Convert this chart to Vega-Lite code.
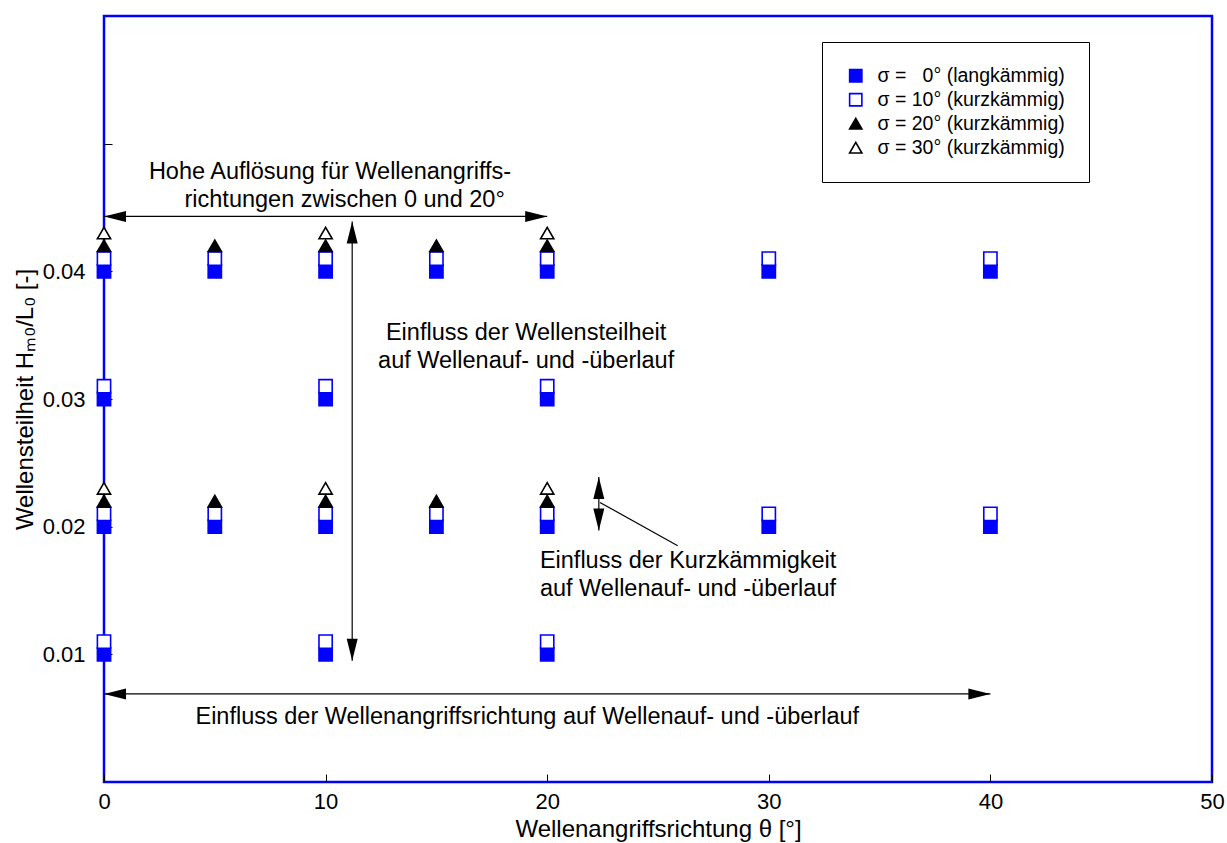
{
  "$schema": "https://vega.github.io/schema/vega-lite/v6.json",
  "width": 1108,
  "height": 766,
  "autosize": "none",
  "padding": {"left": 104, "top": 16, "right": 15, "bottom": 61},
  "background": "white",
  "config": {
    "font": "Liberation Sans",
    "view": {"stroke": "#0000ff", "strokeWidth": 2.5},
    "axis": {
      "domain": false,
      "grid": false,
      "labelFlush": false,
      "tickColor": "black",
      "tickWidth": 1,
      "labelColor": "black",
      "labelFont": "Liberation Sans",
      "labelFontSize": 22,
      "titleFont": "Liberation Sans",
      "titleFontSize": 24,
      "titleFontWeight": "normal",
      "titleColor": "black"
    }
  },
  "layer": [
    {
      "data": {
        "values": [
          {"theta": 0, "steil": 0.040, "serie": "σ = \u00a0\u00a00° (langkämmig)"},
          {"theta": 5, "steil": 0.040, "serie": "σ = \u00a0\u00a00° (langkämmig)"},
          {"theta": 10, "steil": 0.040, "serie": "σ = \u00a0\u00a00° (langkämmig)"},
          {"theta": 15, "steil": 0.040, "serie": "σ = \u00a0\u00a00° (langkämmig)"},
          {"theta": 20, "steil": 0.040, "serie": "σ = \u00a0\u00a00° (langkämmig)"},
          {"theta": 30, "steil": 0.040, "serie": "σ = \u00a0\u00a00° (langkämmig)"},
          {"theta": 40, "steil": 0.040, "serie": "σ = \u00a0\u00a00° (langkämmig)"},
          {"theta": 0, "steil": 0.030, "serie": "σ = \u00a0\u00a00° (langkämmig)"},
          {"theta": 10, "steil": 0.030, "serie": "σ = \u00a0\u00a00° (langkämmig)"},
          {"theta": 20, "steil": 0.030, "serie": "σ = \u00a0\u00a00° (langkämmig)"},
          {"theta": 0, "steil": 0.020, "serie": "σ = \u00a0\u00a00° (langkämmig)"},
          {"theta": 5, "steil": 0.020, "serie": "σ = \u00a0\u00a00° (langkämmig)"},
          {"theta": 10, "steil": 0.020, "serie": "σ = \u00a0\u00a00° (langkämmig)"},
          {"theta": 15, "steil": 0.020, "serie": "σ = \u00a0\u00a00° (langkämmig)"},
          {"theta": 20, "steil": 0.020, "serie": "σ = \u00a0\u00a00° (langkämmig)"},
          {"theta": 30, "steil": 0.020, "serie": "σ = \u00a0\u00a00° (langkämmig)"},
          {"theta": 40, "steil": 0.020, "serie": "σ = \u00a0\u00a00° (langkämmig)"},
          {"theta": 0, "steil": 0.010, "serie": "σ = \u00a0\u00a00° (langkämmig)"},
          {"theta": 10, "steil": 0.010, "serie": "σ = \u00a0\u00a00° (langkämmig)"},
          {"theta": 20, "steil": 0.010, "serie": "σ = \u00a0\u00a00° (langkämmig)"},
          {"theta": 0, "steil": 0.041, "serie": "σ = 10° (kurzkämmig)"},
          {"theta": 5, "steil": 0.041, "serie": "σ = 10° (kurzkämmig)"},
          {"theta": 10, "steil": 0.041, "serie": "σ = 10° (kurzkämmig)"},
          {"theta": 15, "steil": 0.041, "serie": "σ = 10° (kurzkämmig)"},
          {"theta": 20, "steil": 0.041, "serie": "σ = 10° (kurzkämmig)"},
          {"theta": 30, "steil": 0.041, "serie": "σ = 10° (kurzkämmig)"},
          {"theta": 40, "steil": 0.041, "serie": "σ = 10° (kurzkämmig)"},
          {"theta": 0, "steil": 0.031, "serie": "σ = 10° (kurzkämmig)"},
          {"theta": 10, "steil": 0.031, "serie": "σ = 10° (kurzkämmig)"},
          {"theta": 20, "steil": 0.031, "serie": "σ = 10° (kurzkämmig)"},
          {"theta": 0, "steil": 0.021, "serie": "σ = 10° (kurzkämmig)"},
          {"theta": 5, "steil": 0.021, "serie": "σ = 10° (kurzkämmig)"},
          {"theta": 10, "steil": 0.021, "serie": "σ = 10° (kurzkämmig)"},
          {"theta": 15, "steil": 0.021, "serie": "σ = 10° (kurzkämmig)"},
          {"theta": 20, "steil": 0.021, "serie": "σ = 10° (kurzkämmig)"},
          {"theta": 30, "steil": 0.021, "serie": "σ = 10° (kurzkämmig)"},
          {"theta": 40, "steil": 0.021, "serie": "σ = 10° (kurzkämmig)"},
          {"theta": 0, "steil": 0.011, "serie": "σ = 10° (kurzkämmig)"},
          {"theta": 10, "steil": 0.011, "serie": "σ = 10° (kurzkämmig)"},
          {"theta": 20, "steil": 0.011, "serie": "σ = 10° (kurzkämmig)"},
          {"theta": 0, "steil": 0.042, "serie": "σ = 20° (kurzkämmig)"},
          {"theta": 5, "steil": 0.042, "serie": "σ = 20° (kurzkämmig)"},
          {"theta": 10, "steil": 0.042, "serie": "σ = 20° (kurzkämmig)"},
          {"theta": 15, "steil": 0.042, "serie": "σ = 20° (kurzkämmig)"},
          {"theta": 20, "steil": 0.042, "serie": "σ = 20° (kurzkämmig)"},
          {"theta": 0, "steil": 0.022, "serie": "σ = 20° (kurzkämmig)"},
          {"theta": 5, "steil": 0.022, "serie": "σ = 20° (kurzkämmig)"},
          {"theta": 10, "steil": 0.022, "serie": "σ = 20° (kurzkämmig)"},
          {"theta": 15, "steil": 0.022, "serie": "σ = 20° (kurzkämmig)"},
          {"theta": 20, "steil": 0.022, "serie": "σ = 20° (kurzkämmig)"},
          {"theta": 0, "steil": 0.043, "serie": "σ = 30° (kurzkämmig)"},
          {"theta": 10, "steil": 0.043, "serie": "σ = 30° (kurzkämmig)"},
          {"theta": 20, "steil": 0.043, "serie": "σ = 30° (kurzkämmig)"},
          {"theta": 0, "steil": 0.023, "serie": "σ = 30° (kurzkämmig)"},
          {"theta": 10, "steil": 0.023, "serie": "σ = 30° (kurzkämmig)"},
          {"theta": 20, "steil": 0.023, "serie": "σ = 30° (kurzkämmig)"}
        ]
      },
      "mark": {"type": "point", "size": 175, "strokeWidth": 1.6, "opacity": 1},
      "encoding": {
        "x": {
          "field": "theta", "type": "quantitative",
          "scale": {"domain": [0, 50], "nice": false, "zero": false},
          "axis": {
            "values": [0, 10, 20, 30, 40, 50],
            "tickSize": -8,
            "labelPadding": 17,
            "title": "Wellenangriffsrichtung θ [°]",
            "titlePadding": 5
          }
        },
        "y": {
          "field": "steil", "type": "quantitative",
          "scale": {"domain": [0, 0.06], "nice": false, "zero": false},
          "axis": {
            "values": [0.01, 0.02, 0.03, 0.04, 0.05],
            "format": ".2f",
            "labelExpr": "datum.value > 0.045 ? '' : datum.label",
            "tickSize": -8,
            "labelPadding": 27,
            "title": "Wellensteilheit Hₘ₀/L₀ [-]",
            "titlePadding": 5
          }
        },
        "shape": {
          "field": "serie", "type": "nominal",
          "scale": {
            "domain": ["σ = \u00a0\u00a00° (langkämmig)", "σ = 10° (kurzkämmig)", "σ = 20° (kurzkämmig)", "σ = 30° (kurzkämmig)"],
            "range": ["square", "square", "triangle-up", "triangle-up"]
          },
          "legend": {
            "title": null,
            "orient": "none",
            "legendX": 718,
            "legendY": 26,
            "fillColor": "white",
            "strokeColor": "black",
            "padding": 24,
            "labelFont": "Liberation Sans",
            "labelFontSize": 19.5,
            "labelLimit": 400,
            "labelColor": "black",
            "labelOffset": 12,
            "rowPadding": 3,
            "symbolSize": 150,
            "symbolStrokeWidth": 1.6,
            "symbolOpacity": 1
          }
        },
        "fill": {
          "field": "serie", "type": "nominal",
          "scale": {
            "domain": ["σ = \u00a0\u00a00° (langkämmig)", "σ = 10° (kurzkämmig)", "σ = 20° (kurzkämmig)", "σ = 30° (kurzkämmig)"],
            "range": ["#0000ff", "#ffffff", "#000000", "#ffffff"]
          }
        },
        "stroke": {
          "field": "serie", "type": "nominal",
          "scale": {
            "domain": ["σ = \u00a0\u00a00° (langkämmig)", "σ = 10° (kurzkämmig)", "σ = 20° (kurzkämmig)", "σ = 30° (kurzkämmig)"],
            "range": ["#0000ff", "#0000ff", "#000000", "#000000"]
          }
        }
      }
    },
    {
      "data": {
        "values": [
          {"theta": 0, "steil": 0.0443, "theta2": 20, "steil2": 0.0443},
          {"theta": 11.2, "steil": 0.0439, "theta2": 11.2, "steil2": 0.0095},
          {"theta": 22.33, "steil": 0.0239, "theta2": 22.33, "steil2": 0.0197},
          {"theta": 0, "steil": 0.0069, "theta2": 40, "steil2": 0.0069},
          {"theta": 22.38, "steil": 0.0219, "theta2": 25.89, "steil2": 0.0185}
        ]
      },
      "mark": {"type": "rule", "color": "black", "strokeWidth": 1.2},
      "encoding": {
        "x": {"field": "theta", "type": "quantitative"},
        "y": {"field": "steil", "type": "quantitative"},
        "x2": {"field": "theta2"},
        "y2": {"field": "steil2"}
      }
    },
    {
      "data": {"values": [{"theta": 20, "steil": 0.0443}, {"theta": 40, "steil": 0.0069}]},
      "mark": {"type": "point", "shape": "M0,0L-1,-0.25L-1,0.25Z", "size": 1936, "filled": true, "color": "black", "opacity": 1},
      "encoding": {"x": {"field": "theta", "type": "quantitative"}, "y": {"field": "steil", "type": "quantitative"}}
    },
    {
      "data": {"values": [{"theta": 0, "steil": 0.0443}, {"theta": 0, "steil": 0.0069}]},
      "mark": {"type": "point", "shape": "M0,0L1,-0.25L1,0.25Z", "size": 1936, "filled": true, "color": "black", "opacity": 1},
      "encoding": {"x": {"field": "theta", "type": "quantitative"}, "y": {"field": "steil", "type": "quantitative"}}
    },
    {
      "data": {"values": [{"theta": 11.2, "steil": 0.0439}, {"theta": 22.33, "steil": 0.0239}]},
      "mark": {"type": "point", "shape": "M0,0L-0.25,1L0.25,1Z", "size": 1936, "filled": true, "color": "black", "opacity": 1},
      "encoding": {"x": {"field": "theta", "type": "quantitative"}, "y": {"field": "steil", "type": "quantitative"}}
    },
    {
      "data": {"values": [{"theta": 11.2, "steil": 0.0095}, {"theta": 22.33, "steil": 0.0197}]},
      "mark": {"type": "point", "shape": "M0,0L-0.25,-1L0.25,-1Z", "size": 1936, "filled": true, "color": "black", "opacity": 1},
      "encoding": {"x": {"field": "theta", "type": "quantitative"}, "y": {"field": "steil", "type": "quantitative"}}
    },
    {
      "data": {
        "values": [
          {"theta": 10.2, "steil": 0.04726, "txt": "Hohe Auflösung für Wellenangriffs-"},
          {"theta": 10.86, "steil": 0.04507, "txt": "richtungen zwischen 0 und 20°"},
          {"theta": 19.05, "steil": 0.03466, "txt": "Einfluss der Wellensteilheit"},
          {"theta": 19.05, "steil": 0.03246, "txt": "auf Wellenauf- und -überlauf"},
          {"theta": 19.1, "steil": 0.00457, "txt": "Einfluss der Wellenangriffsrichtung auf Wellenauf- und -überlauf"}
        ]
      },
      "mark": {"type": "text", "align": "center", "baseline": "alphabetic", "font": "Liberation Sans", "fontSize": 23.5, "color": "black"},
      "encoding": {
        "x": {"field": "theta", "type": "quantitative"},
        "y": {"field": "steil", "type": "quantitative"},
        "text": {"field": "txt"}
      }
    },
    {
      "data": {
        "values": [
          {"theta": 19.67, "steil": 0.01679, "txt": "Einfluss der Kurzkämmigkeit"},
          {"theta": 19.67, "steil": 0.01459, "txt": "auf Wellenauf- und -überlauf"}
        ]
      },
      "mark": {"type": "text", "align": "left", "baseline": "alphabetic", "font": "Liberation Sans", "fontSize": 23.5, "color": "black"},
      "encoding": {
        "x": {"field": "theta", "type": "quantitative"},
        "y": {"field": "steil", "type": "quantitative"},
        "text": {"field": "txt"}
      }
    }
  ]
}
